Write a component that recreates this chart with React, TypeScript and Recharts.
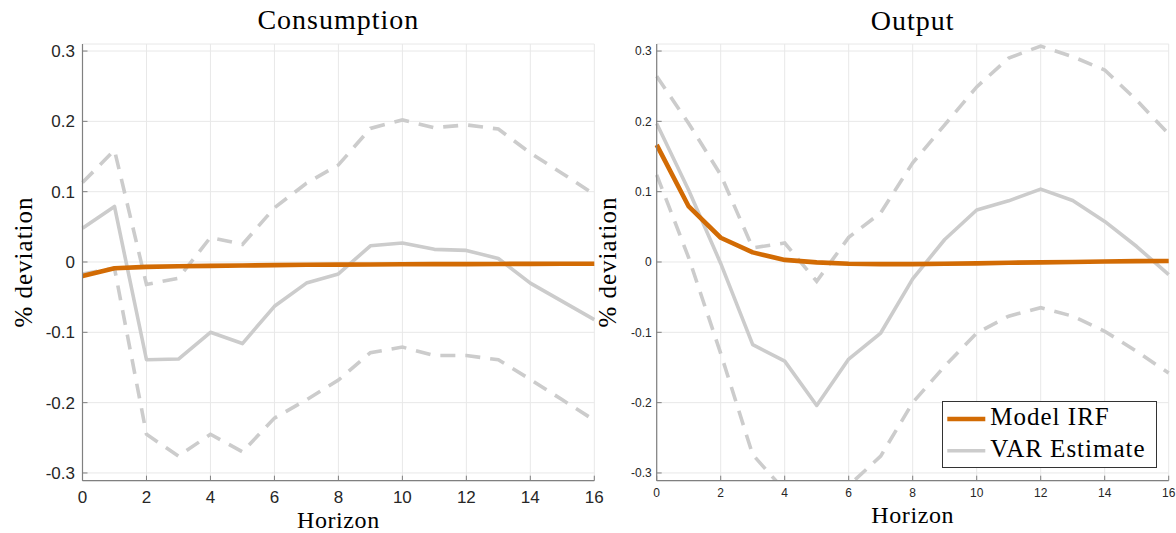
import React from 'react';
import { LineChart, Line, XAxis, YAxis, CartesianGrid, Legend } from 'recharts';

// ---------- data ----------
const horizon = [0, 1, 2, 3, 4, 5, 6, 7, 8, 9, 10, 11, 12, 13, 14, 15, 16];
const xTicks = [0, 2, 4, 6, 8, 10, 12, 14, 16];
const yTicks = [-0.3, -0.2, -0.1, 0, 0.1, 0.2, 0.3];

const panelTitles = ['Consumption', 'Output'];
const xAxisTitle = 'Horizon';
const yAxisTitle = '% deviation';
const seriesNames = ['Model IRF', 'VAR Estimate'];

// Consumption panel
const consModel = [-0.02, -0.009, -0.007, -0.006, -0.0055, -0.005, -0.0045, -0.004, -0.0038, -0.0035, -0.0033, -0.003, -0.003, -0.0028, -0.0026, -0.0025, -0.0024];
const consVar = [0.048, 0.079, -0.139, -0.138, -0.1, -0.116, -0.063, -0.03, -0.017, 0.023, 0.027, 0.018, 0.0165, 0.005, -0.03, -0.056, -0.082];
const consUpper = [0.113, 0.159, -0.032, -0.023, 0.035, 0.025, 0.077, 0.112, 0.138, 0.19, 0.202, 0.191, 0.195, 0.189, 0.155, 0.126, 0.096];
const consLower = [-0.017, -0.009, -0.245, -0.276, -0.245, -0.27, -0.222, -0.196, -0.168, -0.129, -0.121, -0.133, -0.133, -0.139, -0.167, -0.196, -0.225];

// Output panel
const outModel = [0.1666, 0.079, 0.0345, 0.0137, 0.003, -0.0005, -0.0025, -0.003, -0.003, -0.0025, -0.002, -0.001, -0.0005, 0, 0.0008, 0.0012, 0.0015];
const outVar = [0.197, 0.102, -0.002, -0.1175, -0.141, -0.204, -0.138, -0.101, -0.024, 0.032, 0.074, 0.087, 0.1037, 0.0875, 0.0577, 0.022, -0.018];
const outUpper = [0.264, 0.197, 0.124, 0.02, 0.027, -0.0275, 0.035, 0.07, 0.141, 0.195, 0.249, 0.29, 0.307, 0.292, 0.273, 0.23, 0.182];
const outLower = [0.124, 0.006, -0.13, -0.274, -0.325, -0.345, -0.318, -0.276, -0.2, -0.148, -0.101, -0.077, -0.065, -0.077, -0.0985, -0.127, -0.158];

// ---------- styles ----------
const ORANGE = '#d26b04';
const GRAY = '#cccccc';
const AXIS = '#808080';
const GRID = '#e8e8e8';
const TICK_TEXT = '#262626';
const SANS = '"Liberation Sans", Arial, Helvetica, sans-serif';
const SERIF = '"Liberation Serif", "Times New Roman", serif';

const Y_DOMAIN: [number, number] = [-0.311, 0.31];
const PLOT_TOP = 44;
const PLOT_BOTTOM = 480.7;
const H = 533;

function buildRows(model: number[], varEst: number[], upper: number[], lower: number[]) {
  return horizon.map((h, i) => ({ h, model: model[i], varEst: varEst[i], upper: upper[i], lower: lower[i] }));
}

const fmtY = (v: number) => (Math.abs(v) < 1e-9 ? '0' : v.toFixed(1));

function makeYTick(axisX: number, fontSize: number, gap: number) {
  return (props: any) => {
    const { y, payload } = props;
    return (
      <g>
        <line x1={axisX} x2={axisX + 5} y1={y} y2={y} stroke={AXIS} strokeWidth={1} />
        <text x={axisX - gap} y={y + fontSize * 0.36} textAnchor="end" fontSize={fontSize} fontFamily={SANS} fill={TICK_TEXT}>
          {fmtY(payload.value)}
        </text>
      </g>
    );
  };
}

function makeXTick(axisY: number, fontSize: number, baselineOffset: number) {
  return (props: any) => {
    const { x, payload } = props;
    return (
      <g>
        <line x1={x} x2={x} y1={axisY} y2={axisY - 5} stroke={AXIS} strokeWidth={1} />
        <text x={x} y={axisY + baselineOffset} textAnchor="middle" fontSize={fontSize} fontFamily={SANS} fill={TICK_TEXT}>
          {String(payload.value)}
        </text>
      </g>
    );
  };
}

const LegendBox = (props: any) => {
  const items = (props.payload || [])
    .filter((p: any) => p.type !== 'none' && seriesNames.includes(p.value))
    .sort((a: any, b: any) => seriesNames.indexOf(a.value) - seriesNames.indexOf(b.value));
  return (
    <div style={{ width: 215, height: 67, boxSizing: 'border-box', border: '1px solid #333333', background: '#ffffff' }}>
      <svg width={213} height={65} style={{ display: 'block' }}>
        {items.map((it: any, i: number) => {
          const cy = 17 + i * 31.7;
          return (
            <g key={it.value}>
              <line x1={4.3} x2={42.3} y1={cy} y2={cy} stroke={it.color} strokeWidth={i === 0 ? 4.5 : 3.5} />
              <text x={47.3} y={cy + 6} fontSize={25} fontFamily={SERIF} letterSpacing={1} fill="#000000">
                {it.value}
              </text>
            </g>
          );
        })}
      </svg>
    </div>
  );
};

type PanelProps = {
  rows: any[];
  width: number;
  plotLeft: number;
  plotRight: number;
  tickFont: number;
  yGap: number;
  xBaseline: number;
  showLegend: boolean;
};

function Panel({ rows, width, plotLeft, plotRight, tickFont, yGap, xBaseline, showLegend }: PanelProps) {
  const yAxisW = 30;
  const xAxisH = 30;
  return (
    <LineChart
      width={width}
      height={H}
      data={rows}
      margin={{ top: PLOT_TOP, right: width - plotRight, left: plotLeft - yAxisW, bottom: H - PLOT_BOTTOM - xAxisH }}
    >
      <CartesianGrid stroke={GRID} strokeWidth={1} />
      <XAxis
        dataKey="h"
        type="number"
        domain={[0, 16]}
        ticks={xTicks}
        height={xAxisH}
        axisLine={{ stroke: AXIS, strokeWidth: 1.2 }}
        tickLine={false}
        tick={makeXTick(PLOT_BOTTOM, tickFont, xBaseline)}
        interval={0}
      />
      <YAxis
        type="number"
        domain={Y_DOMAIN}
        ticks={yTicks}
        allowDataOverflow
        width={yAxisW}
        axisLine={{ stroke: AXIS, strokeWidth: 1.2 }}
        tickLine={false}
        tick={makeYTick(plotLeft, tickFont, yGap)}
        interval={0}
      />
      <Line dataKey="upper" name="upper band" type="linear" stroke={GRAY} strokeWidth={3.6} strokeDasharray="15 10" dot={false} legendType="none" isAnimationActive={false} />
      <Line dataKey="lower" name="lower band" type="linear" stroke={GRAY} strokeWidth={3.6} strokeDasharray="15 10" dot={false} legendType="none" isAnimationActive={false} />
      <Line dataKey="varEst" name={seriesNames[1]} type="linear" stroke={GRAY} strokeWidth={3.6} dot={false} strokeLinejoin="round" isAnimationActive={false} />
      <Line dataKey="model" name={seriesNames[0]} type="linear" stroke={ORANGE} strokeWidth={4.6} dot={false} strokeLinejoin="round" isAnimationActive={false} />
      {showLegend && (
        <Legend
          layout="vertical"
          align="center"
          verticalAlign="middle"
          wrapperStyle={{ left: 341.7, top: 401, width: 215, height: 67, margin: 0 }}
          content={LegendBox}
        />
      )}
    </LineChart>
  );
}

export default function App() {
  const consRows = buildRows(consModel, consVar, consUpper, consLower);
  const outRows = buildRows(outModel, outVar, outUpper, outLower);
  return (
    <div style={{ position: 'absolute', left: 0, top: 0, width: 1176, height: H, background: '#ffffff', overflow: 'hidden' }}>
      <div style={{ position: 'absolute', left: 0, top: 0 }}>
        <Panel rows={consRows} width={610} plotLeft={82.5} plotRight={594.3} tickFont={17} yGap={7.5} xBaseline={22} showLegend={false} />
      </div>
      <div style={{ position: 'absolute', left: 600, top: 0 }}>
        <Panel rows={outRows} width={576} plotLeft={56.7} plotRight={568.7} tickFont={12} yGap={5} xBaseline={16} showLegend={true} />
      </div>
      <svg width={1176} height={H} style={{ position: 'absolute', left: 0, top: 0, pointerEvents: 'none' }}>
        <text x={338.4} y={29} textAnchor="middle" fontSize={28} fontFamily={SERIF} letterSpacing={1} fill="#000">{panelTitles[0]}</text>
        <text x={912.7} y={30} textAnchor="middle" fontSize={28} fontFamily={SERIF} letterSpacing={1} fill="#000">{panelTitles[1]}</text>
        <text x={338.4} y={528} textAnchor="middle" fontSize={24} fontFamily={SERIF} letterSpacing={0.6} fill="#000">{xAxisTitle}</text>
        <text x={912.7} y={523} textAnchor="middle" fontSize={24} fontFamily={SERIF} letterSpacing={0.6} fill="#000">{xAxisTitle}</text>
        <text transform="translate(32,262) rotate(-90)" textAnchor="middle" fontSize={25} fontFamily={SERIF} letterSpacing={1} fill="#000">{yAxisTitle}</text>
        <text transform="translate(616,262) rotate(-90)" textAnchor="middle" fontSize={25} fontFamily={SERIF} letterSpacing={1} fill="#000">{yAxisTitle}</text>
      </svg>
    </div>
  );
}
